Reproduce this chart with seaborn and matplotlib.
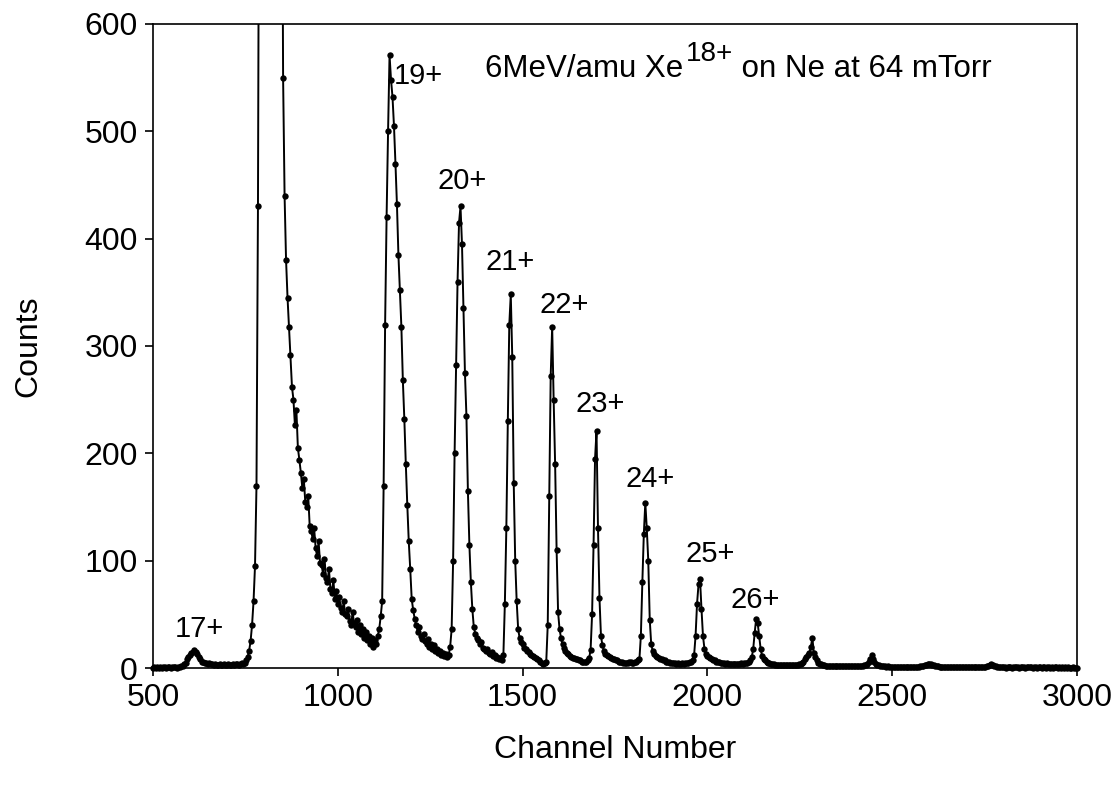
import numpy as np
import pandas as pd
import matplotlib
matplotlib.use("Agg")
import matplotlib.pyplot as plt
import matplotlib.patches as mpatches
import seaborn as sns

# ---------------- data ----------------
channel_start, channel_stop, channel_step = 500, 3000, 4
channels = np.arange(channel_start, channel_stop + 1, channel_step)

counts = [
    # 500 - 596
    0, 1, 0, 1, 0, 1, 0, 1, 1, 0, 1, 1, 0, 1, 1, 1, 0, 1, 1, 2, 2, 4, 5, 8, 10,
    # 600 - 696
    12, 14, 15, 17, 15, 13, 10, 8, 6, 6, 5, 5, 4, 5, 4, 4, 3, 4, 3, 3, 4, 3, 3, 4, 3,
    # 700 - 796
    3, 4, 3, 3, 4, 3, 4, 4, 3, 4, 5, 4, 5, 7, 10, 16, 25, 40, 62, 95, 170, 430, 900, 1500, 2100,
    # 800 - 896
    2600, 2900, 3100, 3200, 3150, 3000, 2800, 2500, 2200, 1900, 1500, 1200, 900, 550, 440,
    380, 345, 318, 292, 262, 250, 226, 240, 205, 194,
    # 900 - 996
    182, 168, 176, 155, 150, 160, 132, 128, 120, 130, 112, 104, 118, 98, 96, 88, 102, 84, 80,
    92, 74, 70, 82, 64, 72,
    # 1000 - 1096
    60, 66, 56, 52, 62, 50, 48, 55, 44, 40, 52, 42, 38, 45, 34, 40, 32, 36, 28, 34, 26, 30, 22, 28, 20,
    # 1100 - 1196
    26, 22, 30, 36, 48, 62, 170, 320, 420, 500, 571, 548, 532, 505, 470, 432, 385, 352, 318,
    268, 232, 190, 152, 118, 92,
    # 1200 - 1296
    64, 54, 46, 40, 34, 38, 30, 27, 32, 25, 22, 27, 20, 22, 18, 21, 16, 18, 14, 16, 12, 14, 11, 13, 10,
    # 1300 - 1396
    12, 20, 36, 100, 200, 282, 360, 415, 430, 395, 335, 275, 235, 165, 115, 80, 55, 38, 32, 28,
    26, 22, 24, 19, 18,
    # 1400 - 1496
    16, 18, 14, 13, 15, 11, 12, 9, 10, 8, 9, 7, 12, 60, 130, 230, 320, 348, 290, 172, 100, 62, 36, 28, 24,
    # 1500 - 1596
    22, 19, 18, 16, 15, 13, 12, 11, 10, 9, 8, 7, 6, 5, 4, 5, 6, 40, 160, 272, 318, 250, 190, 110, 52,
    # 1600 - 1696
    36, 28, 22, 19, 16, 14, 13, 11, 10, 9, 9, 8, 8, 7, 7, 6, 6, 6, 6, 7, 9, 17, 50, 115, 195,
    # 1700 - 1796
    221, 130, 65, 30, 21, 16, 13, 12, 11, 10, 9, 8, 8, 7, 7, 6, 6, 6, 5, 5, 5, 5, 6, 6, 5,
    # 1800 - 1896
    5, 6, 6, 7, 8, 30, 80, 125, 154, 130, 100, 45, 22, 16, 13, 11, 10, 9, 8, 8, 7, 7, 6, 6, 6,
    # 1900 - 1996
    5, 5, 5, 5, 4, 5, 4, 4, 5, 4, 5, 5, 5, 6, 6, 7, 12, 30, 60, 78, 83, 55, 30, 18, 13,
    # 2000 - 2096
    11, 10, 9, 8, 7, 7, 6, 6, 6, 5, 5, 5, 4, 5, 4, 4, 4, 4, 4, 4, 4, 4, 4, 5, 4,
    # 2100 - 2196
    5, 5, 5, 6, 7, 10, 18, 33, 46, 42, 30, 18, 11, 8, 7, 6, 5, 5, 4, 4, 4, 3, 3, 3, 3,
    # 2200 - 2296
    3, 3, 3, 3, 3, 3, 3, 3, 3, 3, 3, 3, 4, 4, 5, 6, 8, 10, 12, 14, 20, 28, 14, 10, 7,
    # 2300 - 2396
    5, 4, 4, 3, 3, 2, 2, 2, 2, 2, 2, 2, 2, 2, 2, 2, 2, 2, 2, 2, 2, 2, 2, 2, 2,
    # 2400 - 2496
    2, 2, 2, 2, 2, 2, 3, 3, 4, 6, 8, 12, 8, 6, 4, 3, 3, 2, 2, 2, 2, 1, 2, 1, 1,
    # 2500 - 2596
    1, 1, 1, 1, 1, 1, 1, 1, 1, 1, 1, 1, 1, 1, 1, 1, 1, 1, 1, 2, 2, 2, 3, 3, 4,
    # 2600 - 2696
    4, 4, 3, 3, 2, 2, 2, 1, 1, 1, 1, 1, 1, 1, 1, 1, 1, 1, 1, 1, 1, 1, 1, 1, 1,
    # 2700 - 2796
    1, 1, 1, 1, 1, 1, 1, 1, 1, 1, 1, 1, 1, 1, 2, 2, 3, 4, 3, 2, 2, 1, 1, 1, 1,
    # 2800 - 2896
    1, 1, 0, 1, 1, 1, 0, 1, 1, 1, 1, 0, 1, 1, 1, 0, 1, 1, 1, 1, 0, 1, 1, 0, 1,
    # 2900 - 2996
    1, 0, 1, 1, 0, 1, 1, 0, 1, 0, 1, 1, 0, 1, 0, 1, 0, 1, 0, 1, 0, 0, 1, 0, 0,
    # 3000
    0,
]

peak_labels = ["17+", "19+", "20+", "21+", "22+", "23+", "24+", "25+", "26+"]
label_channel = [626, 1217, 1336, 1466, 1612, 1709, 1845, 2007, 2129]
label_count = [36, 552, 454, 378, 338, 246, 176, 106, 63]

title_main = "6MeV/amu Xe"
title_sup = "18+"
title_rest = " on Ne at 64 mTorr"

x_ticks = [500, 1000, 1500, 2000, 2500, 3000]
y_ticks = [0, 100, 200, 300, 400, 500, 600]

df = pd.DataFrame({"Channel Number": channels, "Counts": counts})

# ---------------- figure ----------------
sns.set_theme(style="white")
plt.rcParams["font.family"] = ["Liberation Sans", "DejaVu Sans"]

fig = plt.figure(figsize=(11.2, 7.96), dpi=100)
ax = fig.add_axes([153 / 1120, 1 - 668 / 796, 924 / 1120, 644 / 796])

sns.lineplot(data=df, x="Channel Number", y="Counts", ax=ax, color="black",
             linewidth=1.4, marker="o", markersize=4.6, markeredgewidth=0,
             estimator=None, sort=False)

ax.set_xlim(500, 3000)
ax.set_ylim(0, 600)
ax.set_xticks(x_ticks)
ax.set_yticks(y_ticks)

# clip: exact at the top (off-scale main peak), a little loose elsewhere for the markers
clip_rect = mpatches.Rectangle((-0.006, -0.008), 1.012, 1.008,
                               transform=ax.transAxes, facecolor="none", edgecolor="none")
ax.add_patch(clip_rect)
for ln in ax.lines:
    ln.set_clip_path(clip_rect)

for s in ax.spines.values():
    s.set_color("black")
    s.set_linewidth(1.2)

ax.tick_params(axis="both", which="major", direction="out", length=6, width=1.2,
               color="black", labelsize=23, labelcolor="black", pad=5,
               bottom=True, left=True, top=False, right=False)

ax.set_xlabel("Channel Number", fontsize=23, color="black")
ax.set_ylabel("Counts", fontsize=23, color="black")
ax.xaxis.set_label_coords(0.5, (668 - 750) / 644)
ax.xaxis.label.set_va("center")
ax.yaxis.set_label_coords((28 - 153) / 924, 0.5)
ax.yaxis.label.set_va("center")

for lab, cx, cy in zip(peak_labels, label_channel, label_count):
    ax.text(cx, cy, lab, fontsize=21, ha="center", va="center", color="black")

t1 = ax.text(1398, 550.6, title_main, fontsize=22.5, ha="left", va="baseline", color="black")
t2 = ax.annotate(title_sup, xy=(1, 0), xycoords=t1, xytext=(2, 12), textcoords="offset points",
                 fontsize=20, ha="left", va="bottom", color="black")
t3 = ax.annotate(title_rest, xy=(1, 0), xycoords=(t2, t1), xytext=(0, 0), textcoords="offset points",
                 fontsize=22.5, ha="left", va="bottom", color="black")

fig.savefig("out.png", dpi=100)
